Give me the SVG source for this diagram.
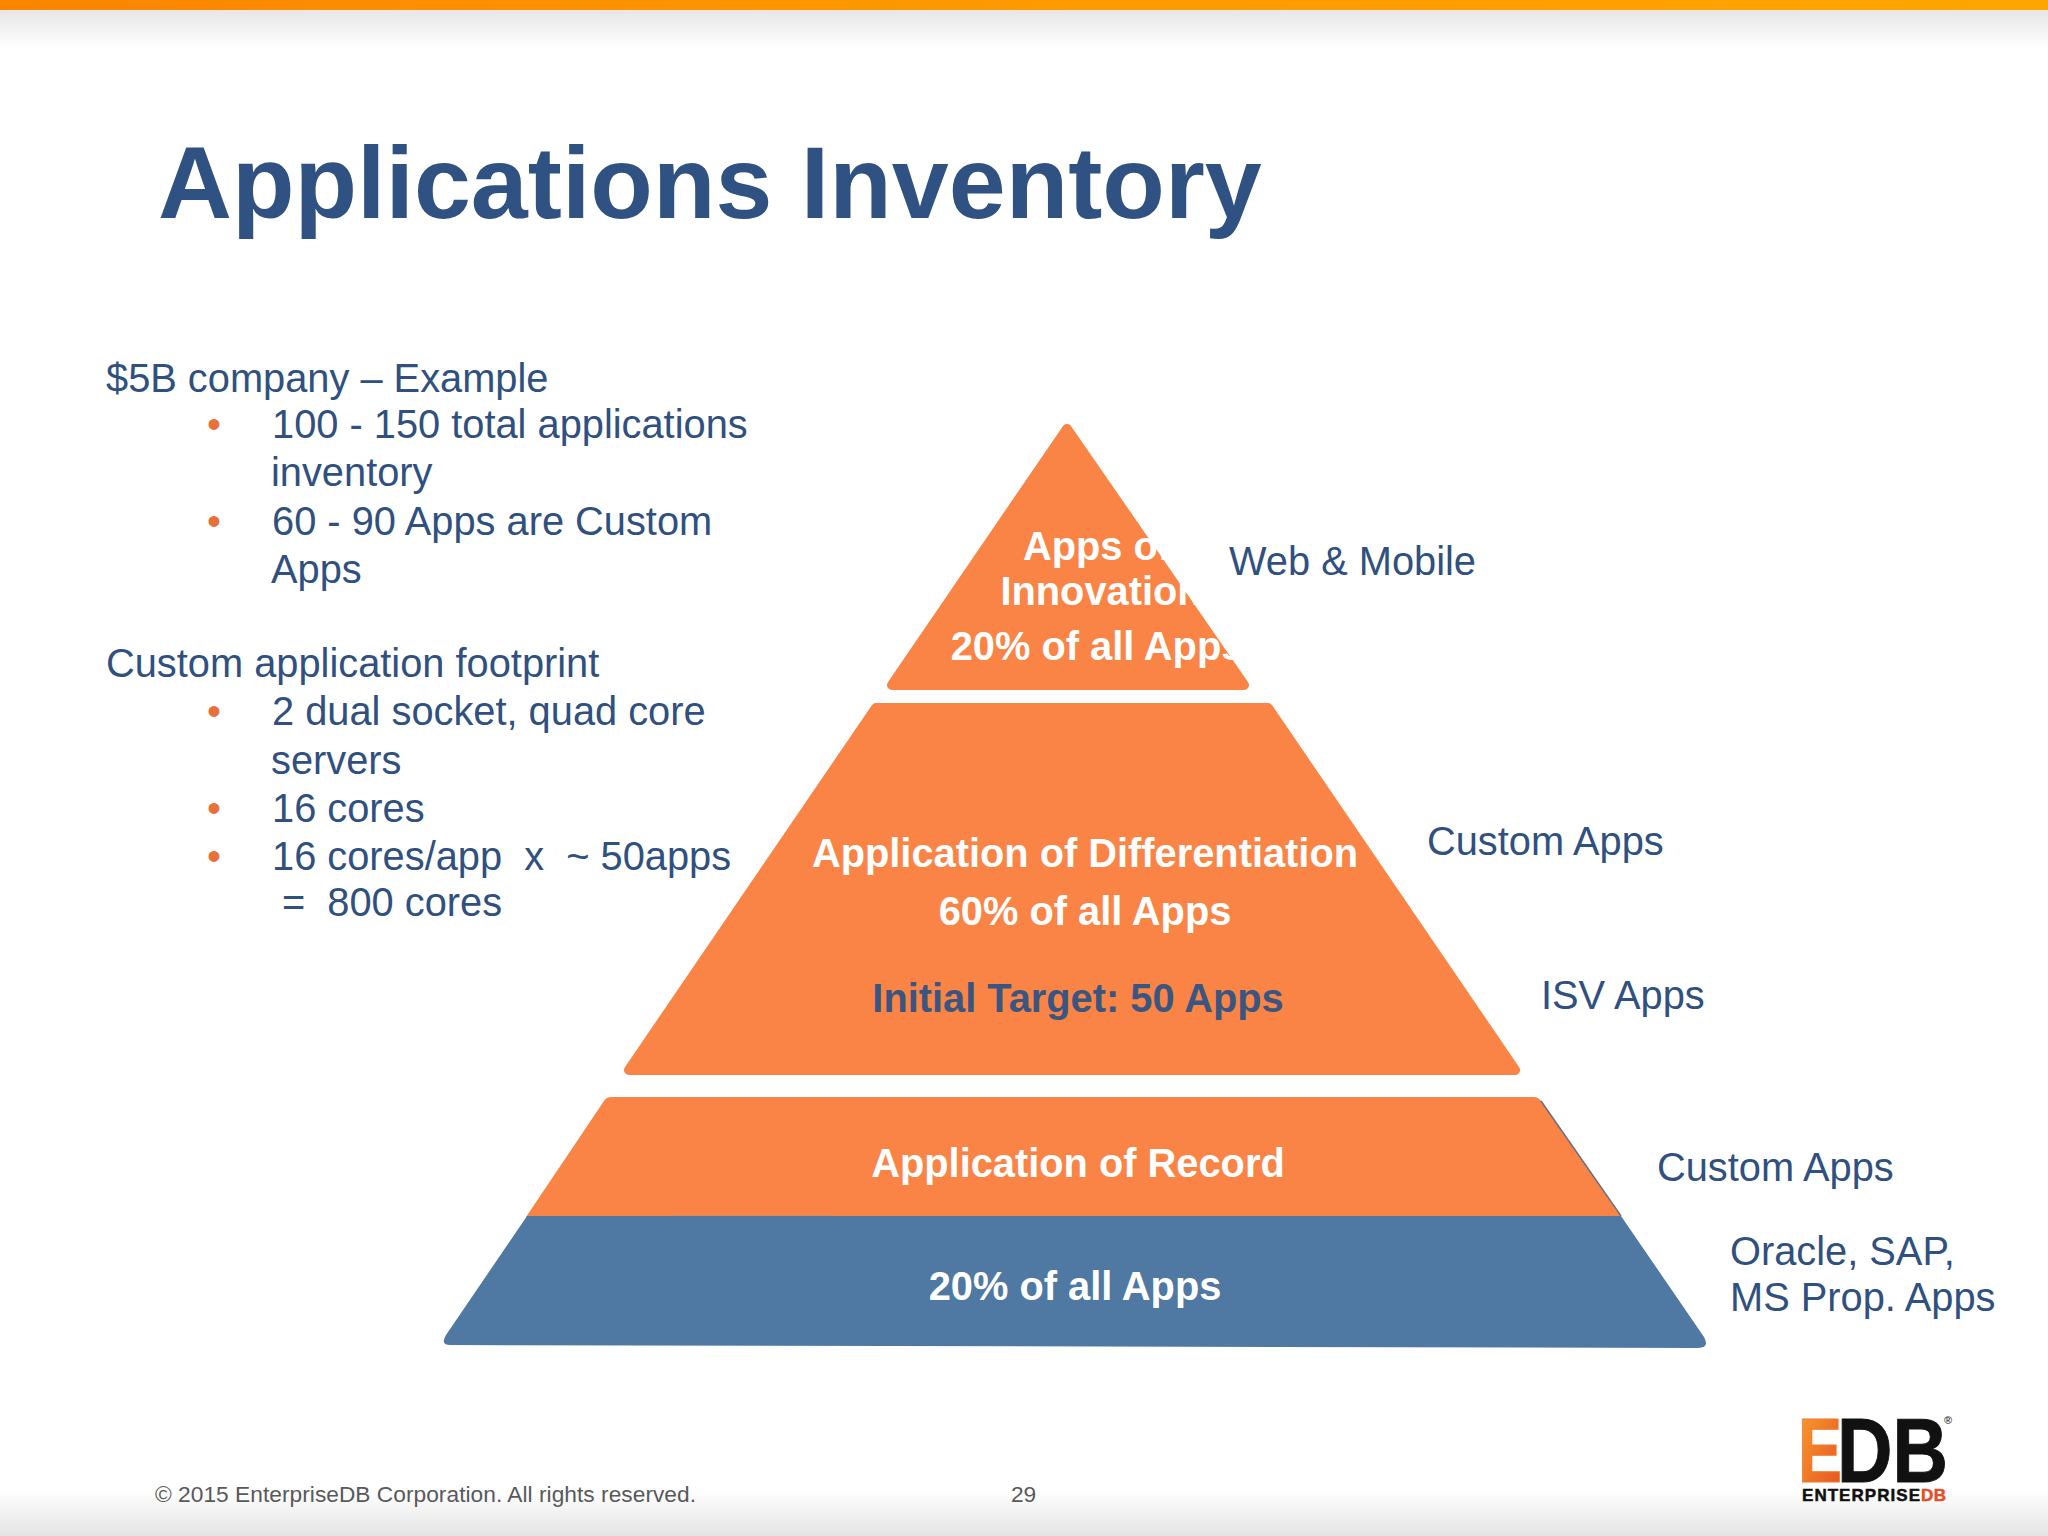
<svg xmlns="http://www.w3.org/2000/svg" width="2048" height="1536" viewBox="0 0 2048 1536">
<style>
text{font-family:"Liberation Sans",Arial,sans-serif}
.b{font-size:39.8px;fill:#30507f}
.d{font-size:39.8px;fill:#e8703a}
.w{font-size:39.8px;font-weight:700;fill:#fff;text-anchor:middle}
.o{fill:#f98446;stroke:#f98446;stroke-width:10;stroke-linejoin:round}
.f{font-size:22.7px;fill:#58595b}
</style>
<defs>
<linearGradient id="top" x1="0" x2="1" y1="0" y2="0"><stop offset="0" stop-color="#fb8500"/><stop offset=".5" stop-color="#fd9a00"/><stop offset="1" stop-color="#fea500"/></linearGradient>
<linearGradient id="sh" x1="0" x2="0" y1="0" y2="1"><stop offset="0" stop-color="#e6e6e6"/><stop offset="1" stop-color="#fff"/></linearGradient>
<linearGradient id="sb" x1="0" x2="0" y1="0" y2="1"><stop offset="0" stop-color="#fff"/><stop offset="1" stop-color="#e4e4e4"/></linearGradient>
<linearGradient id="e" x1="0" x2="1" y1="0" y2="1"><stop offset="0" stop-color="#f9a12b"/><stop offset="1" stop-color="#e54d26"/></linearGradient>
</defs>
<rect width="2048" height="1536" fill="#fff"/>
<rect id="bar" width="2048" height="10" fill="url(#top)"/>
<rect y="10" width="2048" height="38" fill="url(#sh)"/>
<rect y="1490" width="2048" height="46" fill="url(#sb)"/>
<text id="title" x="158" y="218" font-size="102.4" font-weight="700" fill="#2f5283">Applications Inventory</text>
<g id="bullets">
<text class="b" x="106" y="392">$5B company – Example</text>
<text class="d" x="207" y="438">•</text><text class="b" x="272" y="438">100 - 150 total applications</text>
<text class="b" x="271" y="486">inventory</text>
<text class="d" x="207" y="535">•</text><text class="b" x="272" y="535">60 - 90 Apps are Custom</text>
<text class="b" x="271" y="583">Apps</text>
<text class="b" x="106" y="677">Custom application footprint</text>
<text class="d" x="207" y="725">•</text><text class="b" x="272" y="725">2 dual socket, quad core</text>
<text class="b" x="271" y="774">servers</text>
<text class="d" x="207" y="822">•</text><text class="b" x="272" y="822">16 cores</text>
<text class="d" x="207" y="870">•</text><text class="b" x="272" y="870" xml:space="preserve">16 cores/app  x  ~ 50apps</text>
<text class="b" x="282" y="916" xml:space="preserve">=  800 cores</text>
</g>
<g id="tier-apex">
<path class="o" d="M1067 429L1244 685H892Z"/>
<text class="w" x="1097" y="560">Apps of</text>
<text class="w" x="1101" y="605">Innovation</text>
<text class="w" x="1097" y="660">20% of all Apps</text>
</g>
<g id="tier-middle">
<path class="o" d="M876 708H1268L1515 1070H629Z"/>
<text class="w" x="1085" y="867">Application of Differentiation</text>
<text class="w" x="1085" y="925">60% of all Apps</text>
<text class="w" x="1078" y="1012" style="fill:#3a5680">Initial Target: 50 Apps</text>
</g>
<g id="tier-record">
<path d="M604 1101Q606 1097 612 1097H1534Q1538 1097 1541 1101L1621 1217H526Z" fill="#f98446"/>
<path d="M1541 1101L1621 1216" fill="none" stroke="#6b6f78" stroke-width="1.5"/>
<rect x="673" y="1215" width="160" height="3" fill="#c98a6a" opacity=".7"/>
<text class="w" x="1078" y="1177">Application of Record</text>
</g>
<g id="tier-base">
<path d="M527 1216H1621L1704 1337Q1710 1348 1698 1348L450 1345Q440 1345 446 1335Z" fill="#4f79a2"/>
<text class="w" x="1075" y="1300">20% of all Apps</text>
</g>
<g id="labels">
<text class="b" x="1427" y="855">Custom Apps</text>
<text class="b" x="1229" y="575">Web &amp; Mobile</text>
<text class="b" x="1541" y="1009">ISV Apps</text>
<text class="b" x="1657" y="1181">Custom Apps</text>
<text class="b" x="1730" y="1265">Oracle, SAP,</text>
<text class="b" x="1730" y="1311">MS Prop. Apps</text>
</g>
<g id="footer">
<text class="f" x="155" y="1502" textLength="541">© 2015 EnterpriseDB Corporation. All rights reserved.</text>
<text class="f" x="1011" y="1502">29</text>
</g>
<g id="logo" font-weight="700">
<text x="1798" y="1482" font-size="90" textLength="44" lengthAdjust="spacingAndGlyphs" fill="url(#e)" stroke="#ee7a2c" stroke-width="1">E</text>
<text x="1837" y="1482" font-size="90" textLength="111" lengthAdjust="spacingAndGlyphs" fill="#111" stroke="#111" stroke-width="1">DB</text>
<text x="1944" y="1424" font-size="11" fill="#444">®</text>
<text x="1802" y="1501" font-size="17" textLength="118" lengthAdjust="spacing" fill="#111" stroke="#111" stroke-width=".5">ENTERPRISE</text>
<text x="1921" y="1501" font-size="17" textLength="25" lengthAdjust="spacing" fill="#e54d26" stroke="#e54d26" stroke-width=".5">DB</text>
</g>
</svg>
